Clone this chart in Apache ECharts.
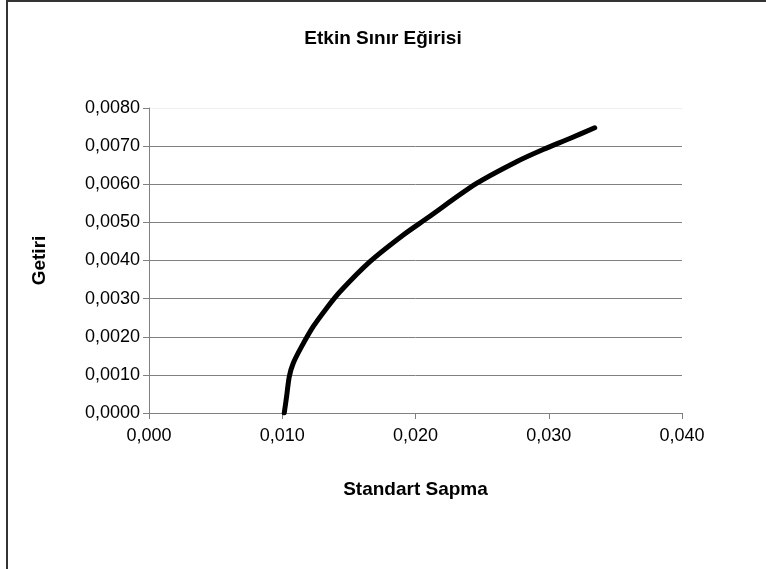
<!DOCTYPE html>
<html>
<head>
<meta charset="utf-8">
<script src="https://cdn.jsdelivr.net/npm/echarts@6/dist/echarts.min.js"></script>
<style>html,body{margin:0;padding:0;background:#fff}#c{width:766px;height:569px}</style>
</head>
<body>
<div id="c"></div>
<script>
const stdDev = [0.01015, 0.01033, 0.01053, 0.01083, 0.01145, 0.01233, 0.01333, 0.01433, 0.01658, 0.01908, 0.02083, 0.02458, 0.02758, 0.02958, 0.03158, 0.03345];
const returns = [0.0000, 0.00044, 0.00096, 0.00131, 0.00174, 0.00227, 0.00275, 0.00318, 0.00397, 0.00467, 0.0051, 0.00602, 0.00659, 0.00691, 0.0072, 0.00748];
const titleText = 'Etkin Sınır Eğirisi';
const xTitle = 'Standart Sapma';
const yTitle = 'Getiri';

const chart = echarts.init(document.getElementById('c'));
const font = '"Liberation Sans", Arial, sans-serif';
const fmt = (v, d) => v.toFixed(d).replace('.', ',');
chart.setOption({
  animation: false,
  backgroundColor: '#fff',
  title: {
    text: titleText, left: 'center', top: 24,
    textStyle: {fontFamily: font, fontSize: 19, fontWeight: 'bold', color: '#000'}
  },
  graphic: [{
    type: 'rect', shape: {x: 7, y: 1, width: 800, height: 600},
    style: {fill: 'none', stroke: '#333', lineWidth: 2}, silent: true
  }],
  grid: {left: 149, right: 84, top: 108, bottom: 156, containLabel: false},
  xAxis: {
    type: 'value', min: 0, max: 0.04, interval: 0.01,
    name: xTitle, nameLocation: 'middle', nameGap: 67,
    nameTextStyle: {fontFamily: font, fontSize: 19, fontWeight: 'bold', color: '#000'},
    axisLine: {show: true, lineStyle: {color: '#808080', width: 1}},
    axisTick: {show: true, length: 6, lineStyle: {color: '#808080'}},
    axisLabel: {fontFamily: font, fontSize: 18, color: '#000', margin: 14, formatter: v => fmt(v, 3)},
    splitLine: {show: false}
  },
  yAxis: {
    type: 'value', min: 0, max: 0.008, interval: 0.001,
    name: yTitle, nameLocation: 'middle', nameGap: 100, nameRotate: 90,
    nameTextStyle: {fontFamily: font, fontSize: 19, fontWeight: 'bold', color: '#000'},
    axisLine: {show: true, lineStyle: {color: '#808080', width: 1}},
    axisTick: {show: true, length: 6, lineStyle: {color: '#808080'}},
    axisLabel: {fontFamily: font, fontSize: 18, color: '#000', margin: 9, formatter: v => fmt(v, 4)},
    splitLine: {show: true, lineStyle: {color: ['#808080','#808080','#808080','#808080','#808080','#808080','#808080','#808080','#eeeeee'], width: 1}}
  },
  series: [{
    type: 'line',
    data: stdDev.map((x, i) => [x, returns[i]]),
    showSymbol: false, smooth: 0.3,
    lineStyle: {color: '#000', width: 5, cap: 'round', join: 'round'}
  }]
});
</script>
</body>
</html>
